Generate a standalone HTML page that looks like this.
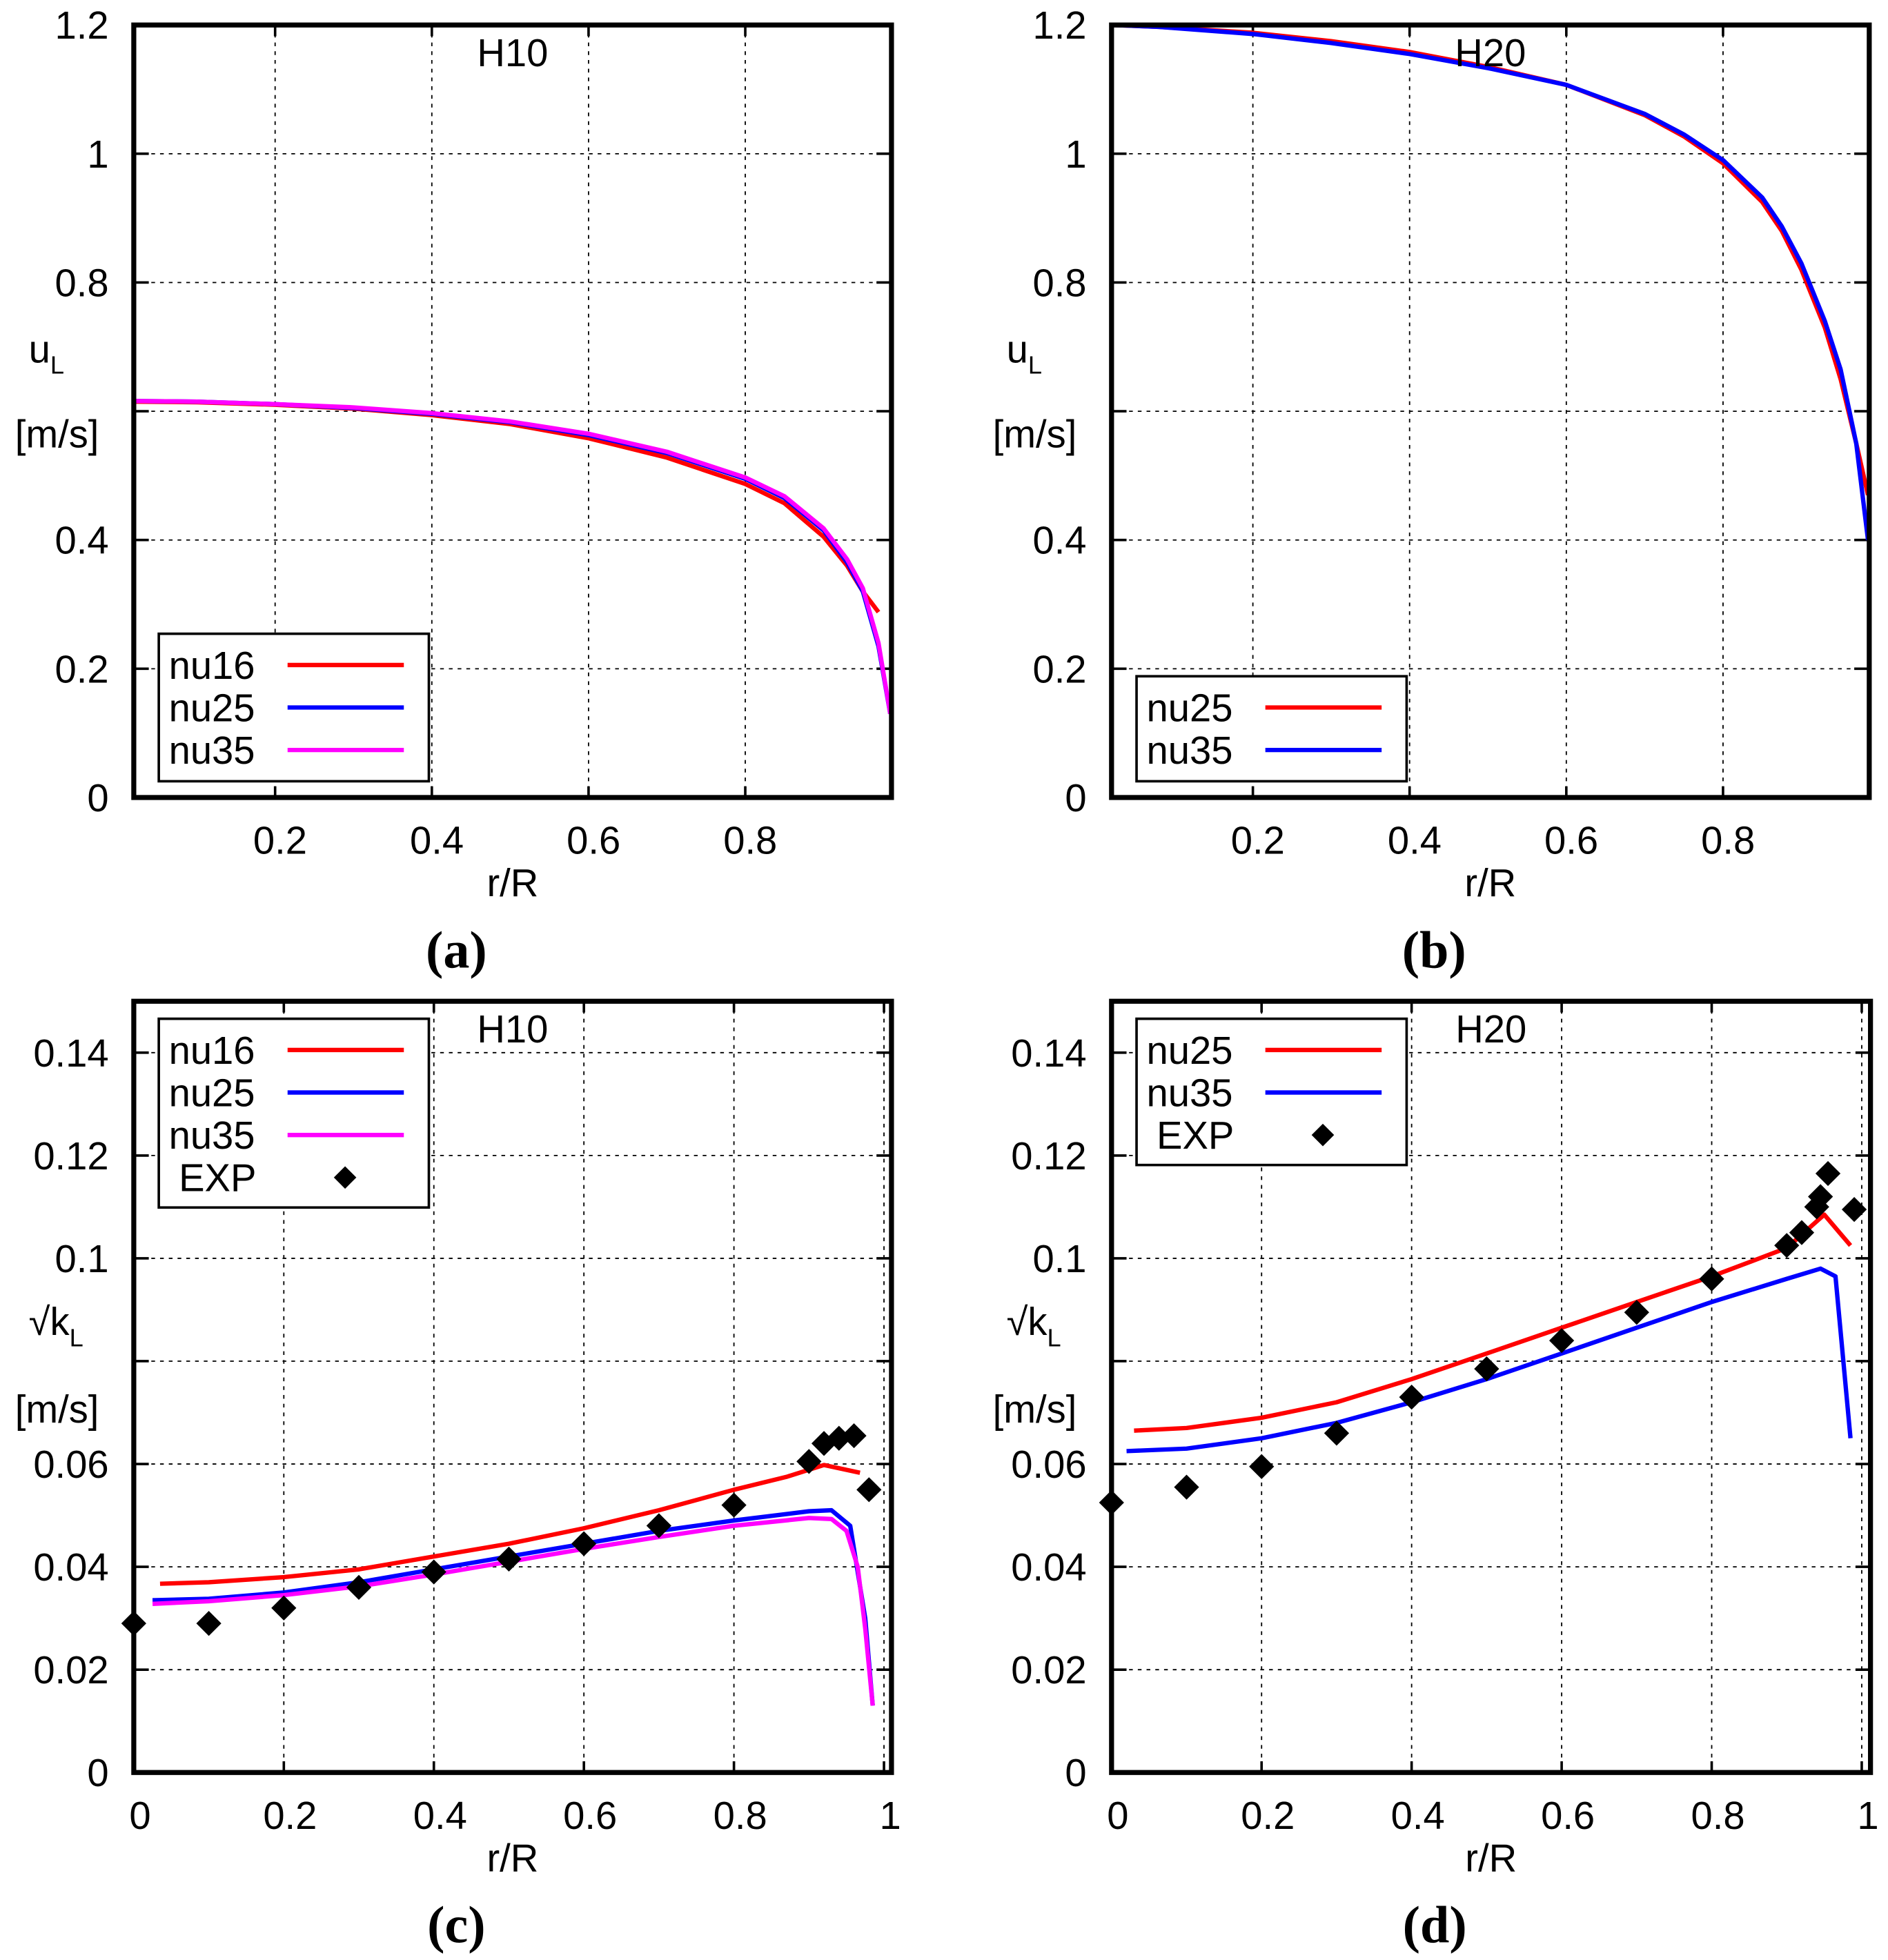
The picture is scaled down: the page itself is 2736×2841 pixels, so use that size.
<!DOCTYPE html>
<html><head><meta charset="utf-8"><style>
html,body{margin:0;padding:0;background:#fff;}
svg{display:block;}
text{font-family:"Liberation Sans",sans-serif;fill:#000;}
.cap{font-family:"Liberation Serif",serif;font-weight:bold;}
</style></head><body>
<svg id="fig" xmlns="http://www.w3.org/2000/svg" width="2736" height="2841" viewBox="0 0 1510 1568" preserveAspectRatio="none"></svg>
<script>
// ---- data ----
const aX16=[0.02,0.1,0.2,0.3,0.4,0.5,0.6,0.7,0.8,0.85,0.9,0.93,0.95,0.97];
const aY16=[0.615,0.614,0.61,0.604,0.594,0.58,0.558,0.528,0.487,0.457,0.405,0.36,0.32,0.288];
const aX25=[0.02,0.1,0.2,0.3,0.4,0.5,0.6,0.7,0.8,0.85,0.9,0.93,0.95,0.97,0.985];
const aY25=[0.616,0.615,0.611,0.605,0.596,0.583,0.563,0.535,0.495,0.465,0.415,0.365,0.32,0.235,0.13];
const aY35=[0.616,0.615,0.611,0.606,0.597,0.584,0.565,0.537,0.497,0.468,0.418,0.37,0.325,0.24,0.13];
const bX=[0.02,0.08,0.2,0.3,0.4,0.5,0.6,0.7,0.75,0.8,0.85,0.875,0.9,0.93,0.95,0.97,0.985];
const bY25=[1.2,1.197,1.188,1.175,1.158,1.135,1.107,1.06,1.027,0.985,0.925,0.88,0.82,0.73,0.65,0.55,0.47];
const bY35=[1.2,1.197,1.186,1.172,1.155,1.133,1.107,1.062,1.03,0.99,0.932,0.887,0.83,0.74,0.665,0.55,0.4];
const cX16=[0.035,0.1,0.2,0.3,0.4,0.5,0.6,0.7,0.8,0.87,0.92,0.968];
const cY16=[0.0367,0.037,0.038,0.0395,0.042,0.0445,0.0475,0.051,0.055,0.0575,0.0598,0.0583];
const cX25=[0.025,0.1,0.2,0.3,0.4,0.5,0.6,0.7,0.8,0.9,0.93,0.955,0.975,0.985];
const cY25=[0.0335,0.0338,0.035,0.037,0.0395,0.042,0.0445,0.047,0.049,0.0508,0.051,0.048,0.03,0.013];
const cX35=[0.025,0.1,0.2,0.3,0.4,0.5,0.6,0.7,0.8,0.9,0.93,0.95,0.965,0.975,0.985];
const cY35=[0.0328,0.0333,0.0345,0.0362,0.0385,0.041,0.0435,0.0458,0.048,0.0495,0.0493,0.047,0.04,0.028,0.013];
const cEX=[0,0.1,0.2,0.3,0.4,0.5,0.6,0.7,0.8,0.9,0.92,0.94,0.96,0.98];
const cEY=[0.029,0.029,0.032,0.036,0.039,0.0415,0.0445,0.048,0.052,0.0605,0.064,0.065,0.0655,0.055];
const dX25=[0.03,0.1,0.2,0.3,0.4,0.5,0.6,0.7,0.8,0.9,0.95,0.985];
const dY25=[0.0665,0.067,0.069,0.072,0.0765,0.0815,0.0865,0.0915,0.0965,0.102,0.1085,0.1025];
const dX35=[0.02,0.1,0.2,0.3,0.4,0.5,0.6,0.7,0.8,0.9,0.945,0.965,0.985];
const dY35=[0.0625,0.063,0.065,0.068,0.072,0.0765,0.0815,0.0865,0.0915,0.096,0.098,0.0965,0.065];
const dEX=[0,0.1,0.2,0.3,0.4,0.5,0.6,0.7,0.8,0.9,0.92,0.94,0.945,0.955,0.99];
const dEY=[0.0525,0.0555,0.0595,0.066,0.073,0.0785,0.084,0.0895,0.096,0.1025,0.105,0.11,0.112,0.1165,0.1095];
const uTicks=[0,0.2,0.4,0.6,0.8,1,1.2];
const uTickLabels=["0","0.2","0.4","","0.8","1","1.2"];
const kTicks=[0,0.02,0.04,0.06,0.08,0.1,0.12,0.14];
const kTickLabels=["0","0.02","0.04","0.06","","0.1","0.12","0.14"];
const xTicksAB=[0.2,0.4,0.6,0.8];
const xTickLabelsAB=["0.2","0.4","0.6","0.8"];
const xTicksCD=[0,0.2,0.4,0.6,0.8,1];
const xTickLabelsCD=["0","0.2","0.4","0.6","0.8","1"];

const NS="http://www.w3.org/2000/svg";
const svg=document.getElementById('fig');
function mk(tag,attrs,parent){const e=document.createElementNS(NS,tag);for(const k in attrs)e.setAttribute(k,attrs[k]);(parent||svg).appendChild(e);return e;}
function txt(x,y,s,size,anchor,parent){const t=mk('text',{x:x,y:y,'font-size':size,'text-anchor':anchor||'middle'},parent);t.textContent=s;return t;}

function panel(o){
  const g=mk('g',{});
  
  
  const L=o.L,R=o.R,T=o.T,B=o.B;
  const sx=v=>o.x0px+(v)*o.xs;
  const sy=v=>B-(v-o.ymin)*(B-T)/(o.ymax-o.ymin);
  o.xt.forEach((v,i)=>{
    const x=sx(v);
    if(x>L+3&&x<R-3){const l=mk('line',{x1:x,y1:T,x2:x,y2:B,stroke:'#000','stroke-width':1,'stroke-dasharray':'3,4'},g);}
    mk('line',{x1:x,y1:B,x2:x,y2:B-9,stroke:'#000','stroke-width':2},g);
    mk('line',{x1:x,y1:T,x2:x,y2:T+9,stroke:'#000','stroke-width':2},g);
    const t=txt(x+o.xlOff,B+45,o.xl[i],31,'middle',g);
    
    
  });
  o.yt.forEach((v,i)=>{
    const y=sy(v);
    if(y>T+3&&y<B-3){const l=mk('line',{x1:L,y1:y,x2:R,y2:y,stroke:'#000','stroke-width':1,'stroke-dasharray':'3,4'},g);}
    mk('line',{x1:L,y1:y,x2:L+12,y2:y,stroke:'#000','stroke-width':2},g);
    mk('line',{x1:R,y1:y,x2:R-12,y2:y,stroke:'#000','stroke-width':2},g);
    const t=txt(L-20,y+11,o.yl[i],31,'end',g);
    
    
  });
  const clip='clip-'+o.name;
  const cp=mk('clipPath',{id:clip},g);mk('rect',{x:L,y:T,width:R-L,height:B-T},cp);
  o.series.forEach(s=>{
    const d=s.x.map((v,i)=>(i?'L':'M')+sx(v).toFixed(1)+','+sy(s.y[i]).toFixed(1)).join(' ');
    const p=mk('path',{d:d,fill:'none',stroke:s.c,'stroke-width':3.5,'stroke-linejoin':'round','clip-path':'url(#'+clip+')'},g);
    
    
  });
  if(o.exp){o.exp.x.forEach((v,i)=>{
    const x=sx(v),y=sy(o.exp.y[i]),r=10;
    const p=mk('polygon',{points:`${x},${y-r} ${x+r},${y} ${x},${y+r} ${x-r},${y}`,fill:'#000'},g);
    
    
  });}
  const bd=mk('rect',{x:L,y:T,width:R-L,height:B-T,fill:'none',stroke:'#000','stroke-width':4},g);
  
  const tt=txt((L+R)/2,T+33,o.title,31,'middle',g);
  
  const xl=txt((L+R)/2,B+79,'r/R',31,'middle',g);
  
  const yl=mk('text',{x:L-84,y:o.yl1,'font-size':31},g);
  
  yl.innerHTML=o.ysym+'<tspan font-size="20" dy="9">L</tspan>';
  const yu=txt(L-95,o.yl2,'[m/s]',31,'start',g);
  
  const cap=mk('text',{x:(L+R)/2-45,y:B+136,'font-size':42,'text-anchor':'middle',class:'cap'},g);
  
  cap.textContent=o.cap;
  const lg=o.leg;
  const lb=mk('rect',{x:lg.x,y:lg.y,width:216,height:lg.h,fill:'#fff',stroke:'#000','stroke-width':2},g);
  
  lg.items.forEach((it,i)=>{
    const y=lg.y+25+i*34;
    const t=txt(lg.x+(it.c?8:16),y+11,it.n,31,'start',g);
    
    if(it.c){const l=mk('line',{x1:lg.x+103,y1:y,x2:lg.x+196,y2:y,stroke:it.c,'stroke-width':3.5},g);}
    else{const x=lg.x+149,r=9;const p=mk('polygon',{points:`${x},${y-r} ${x+r},${y} ${x},${y+r} ${x-r},${y}`,fill:'#000'},g);}
  });
}
const sqrt='\u221Ak';
panel({name:'panel-a',L:107,R:713,T:20,B:638,x0px:94.7,xs:626.7,ymin:0,ymax:1.2,xt:xTicksAB,xl:xTickLabelsAB,xlOff:4,yt:uTicks,yl:uTickLabels,title:'H10',ysym:'u',yl1:290,yl2:358,cap:'(a)',
  series:[{x:aX16,y:aY16,c:'#ff0000',n:'nu16'},{x:aX25,y:aY25,c:'#0000ff',n:'nu25'},{x:aX25,y:aY35,c:'#ff00ff',n:'nu35'}],
  leg:{x:127,y:507,h:118,items:[{n:'nu16',c:'#ff0000'},{n:'nu25',c:'#0000ff'},{n:'nu35',c:'#ff00ff'}]}});
panel({name:'panel-b',L:889,R:1495,T:20,B:638,x0px:876.7,xs:626.7,ymin:0,ymax:1.2,xt:xTicksAB,xl:xTickLabelsAB,xlOff:4,yt:uTicks,yl:uTickLabels,title:'H20',ysym:'u',yl1:290,yl2:358,cap:'(b)',
  series:[{x:bX,y:bY25,c:'#ff0000',n:'nu25'},{x:bX,y:bY35,c:'#0000ff',n:'nu35'}],
  leg:{x:909,y:541,h:84,items:[{n:'nu25',c:'#ff0000'},{n:'nu35',c:'#0000ff'}]}});
panel({name:'panel-c',L:107,R:713,T:801,B:1418,x0px:107,xs:600,ymin:0,ymax:0.15,xt:xTicksCD,xl:xTickLabelsCD,xlOff:5,yt:kTicks,yl:kTickLabels,title:'H10',ysym:sqrt,yl1:1068,yl2:1138,cap:'(c)',
  series:[{x:cX16,y:cY16,c:'#ff0000',n:'nu16'},{x:cX25,y:cY25,c:'#0000ff',n:'nu25'},{x:cX35,y:cY35,c:'#ff00ff',n:'nu35'}],
  exp:{x:cEX,y:cEY},
  leg:{x:127,y:815,h:151,items:[{n:'nu16',c:'#ff0000'},{n:'nu25',c:'#0000ff'},{n:'nu35',c:'#ff00ff'},{n:'EXP',c:null}]}});
panel({name:'panel-d',L:889,R:1496,T:801,B:1418,x0px:889,xs:600,ymin:0,ymax:0.15,xt:xTicksCD,xl:xTickLabelsCD,xlOff:5,yt:kTicks,yl:kTickLabels,title:'H20',ysym:sqrt,yl1:1068,yl2:1138,cap:'(d)',
  series:[{x:dX25,y:dY25,c:'#ff0000',n:'nu25'},{x:dX35,y:dY35,c:'#0000ff',n:'nu35'}],
  exp:{x:dEX,y:dEY},
  leg:{x:909,y:815,h:117,items:[{n:'nu25',c:'#ff0000'},{n:'nu35',c:'#0000ff'},{n:'EXP',c:null}]}});
</script>
</body></html>
